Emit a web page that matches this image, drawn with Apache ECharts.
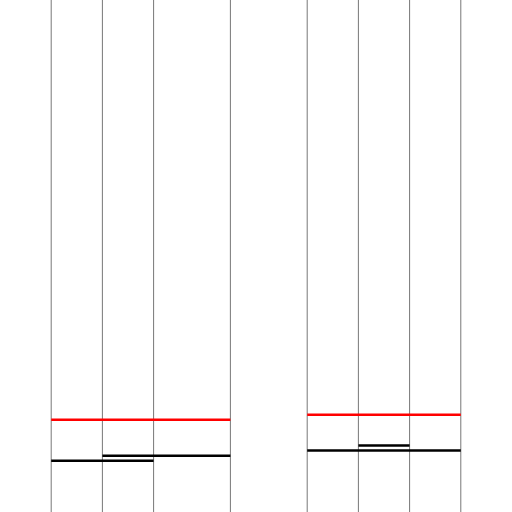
<!DOCTYPE html>
<html><head><meta charset="utf-8">
<script src="https://cdn.jsdelivr.net/npm/echarts@6/dist/echarts.min.js"></script>
<style>html,body{margin:0;padding:0;background:#fff}#c{width:512px;height:512px}</style>
</head><body><div id="c"></div>
<script>
const guidePositions = [1, 2, 3, 4.5, 6, 7, 8, 9];
const redSegments = [[1, 4.5, 1.8], [6, 9, 1.9]];
const blackSegments = [[1, 3, 1.0], [2, 4.5, 1.1], [6, 9, 1.2], [7, 8, 1.3]];

const series = [];
guidePositions.forEach(x => series.push({
  type: 'line', data: [[x, 0], [x, 10]], showSymbol: false, silent: true,
  lineStyle: { color: '#777', width: 1 }, z: 1
}));
redSegments.forEach(s => series.push({
  type: 'line', data: [[s[0], s[2]], [s[1], s[2]]], showSymbol: false,
  lineStyle: { color: '#ff0000', width: 2.5 }, z: 3
}));
blackSegments.forEach(s => series.push({
  type: 'line', data: [[s[0], s[2]], [s[1], s[2]]], showSymbol: false,
  lineStyle: { color: '#000', width: 2.5 }, z: 2
}));

const chart = echarts.init(document.getElementById('c'));
chart.setOption({
  animation: false,
  grid: { left: 0, right: 0, top: 0, bottom: 0 },
  xAxis: { type: 'value', min: 0, max: 10, show: false },
  yAxis: { type: 'value', min: 0, max: 10, show: false },
  series
});
</script></body></html>
